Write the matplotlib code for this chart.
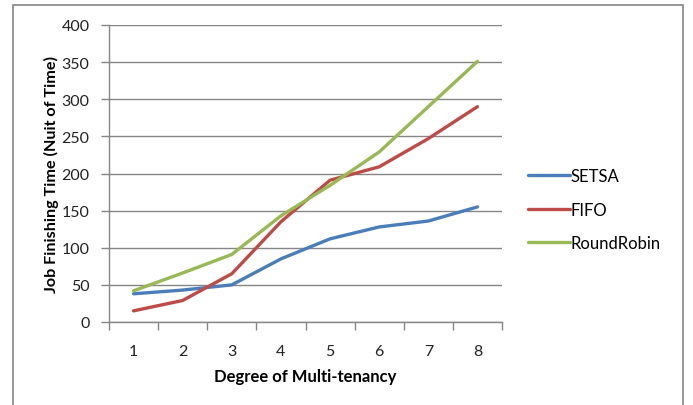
import matplotlib
matplotlib.use("Agg")
import matplotlib.pyplot as plt
from matplotlib.patches import Rectangle

degrees = [1, 2, 3, 4, 5, 6, 7, 8]
setsa = [38, 43, 50, 85, 112, 128, 136, 155]
fifo = [15, 29, 65, 135, 191, 209, 247, 290]
round_robin = [42, 66, 91, 143, 184, 229, 290, 351]
series_names = ["SETSA", "FIFO", "RoundRobin"]
series_colors = ["#4A7EBB", "#BE4B48", "#98B954"]
y_ticks = [0, 50, 100, 150, 200, 250, 300, 350, 400]

plt.rcParams["font.family"] = ["Lato", "DejaVu Sans"]

W, H = 693, 406
fig = plt.figure(figsize=(W / 100, H / 100), dpi=100)

# outer chart frame (bottom edge runs past the image)
frame = Rectangle((13 / W, -0.1), (683 - 13) / W, 1.1 - 6 / H,
                  transform=fig.transFigure, fill=False,
                  edgecolor="#868686", linewidth=1.2)
fig.patches.append(frame)

ax = fig.add_axes([109 / W, (H - 323) / H, (502 - 109) / W, (323 - 26) / H])

lines = []
for vals, name, col in zip([setsa, fifo, round_robin], series_names, series_colors):
    ln, = ax.plot(degrees, vals, color=col, linewidth=2.4, solid_capstyle="round",
                  solid_joinstyle="round", label=name, zorder=3)
    lines.append(ln)

ax.set_xlim(0.5, 8.5)
ax.set_ylim(0, 400)
ax.set_yticks(y_ticks)
ax.set_xticks(degrees)
ax.set_xticks([d + 0.5 for d in [0] + degrees], minor=True)
ax.tick_params(axis="x", which="major", length=0, pad=16, labelsize=11.5,
               labelcolor="#222222")
ax.tick_params(axis="x", which="minor", length=6, color="#868686", width=1)
ax.tick_params(axis="y", which="major", length=6, color="#868686", width=1,
               pad=8, labelsize=11.5, labelcolor="#222222")

ax.grid(axis="y", color="#868686", linewidth=1)
ax.set_axisbelow(True)
for side in ["top", "right"]:
    ax.spines[side].set_visible(False)
for side in ["left", "bottom"]:
    ax.spines[side].set_color("#868686")
    ax.spines[side].set_linewidth(1)

ax.set_xlabel("Degree of Multi-tenancy", fontsize=12, fontweight="bold",
              labelpad=7)
ax.set_ylabel("Job Finishing Time (Nuit of Time)", fontsize=11.6,
              fontweight="bold", labelpad=2)

# legend to the right of the plot area
fig.legend(handles=lines, labels=series_names, loc="upper left",
           bbox_to_anchor=(513 / W, 1 - 154 / H), frameon=False,
           handlelength=2.5, handletextpad=0.05, labelspacing=1.05,
           fontsize=12)

fig.savefig("out.png", dpi=100)
